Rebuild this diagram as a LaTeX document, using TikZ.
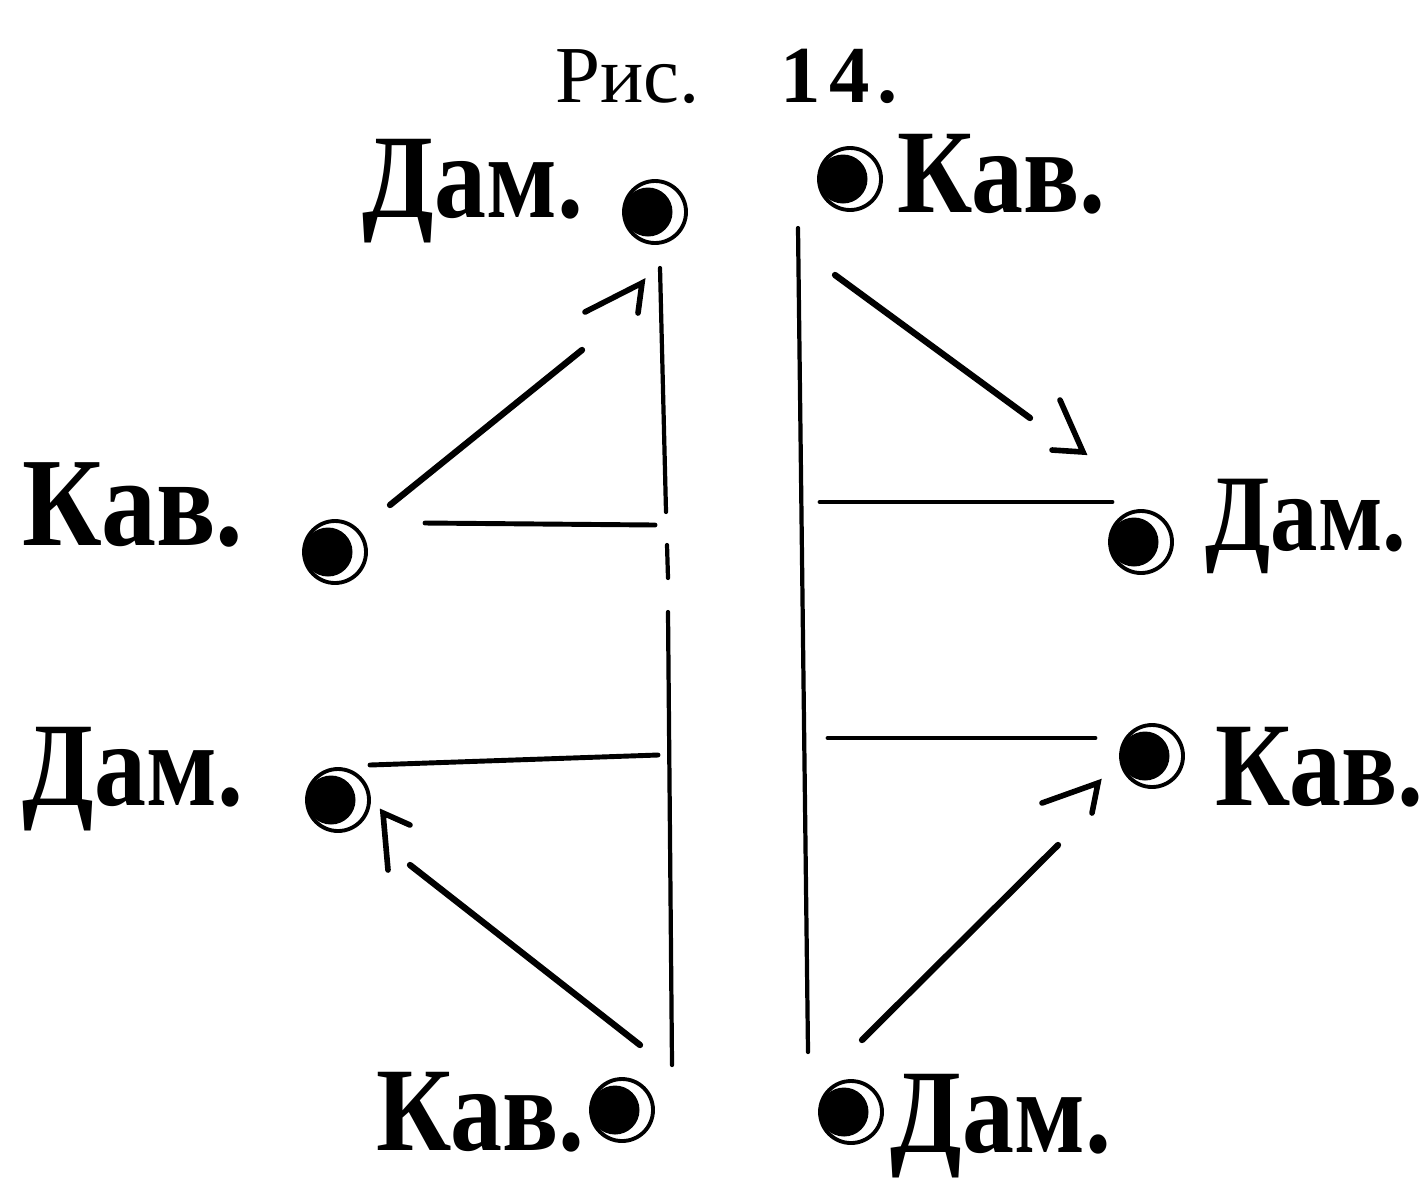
\documentclass[tikz,border=0pt]{standalone}
\usepackage{fontspec}
\setmainfont{Liberation Serif}
\newfontfamily\namefont[FakeStretch=0.87]{Liberation Serif}
\newfontfamily\numfont[LetterSpace=10]{Liberation Serif}
\usepackage{tikz}
\usetikzlibrary{arrows.meta,positioning,calc}
\tikzset{
  dancer/.style={circle, draw, line width=1.1pt, minimum size=0.62cm, inner sep=0pt,
                 path picture={\fill ($(path picture bounding box.center)+(-0.07,0)$) circle (0.245);}},
  lbl/.style={inner sep=0pt, font=\namefont\bfseries\fontsize{34}{34}\selectfont},
  ttl/.style={inner sep=0pt, anchor=base west, font=\fontsize{23}{23}\selectfont},
  floor/.style={line width=1.2pt, line cap=round},
  rank/.style={line width=1.4pt, line cap=round},
  movarr/.style={line width=1.8pt, line cap=round},
  headarr/.style={line width=1.6pt, line cap=round, line join=miter},
}
\begin{document}
\begin{tikzpicture}
  \fill[white] (0,0) rectangle (14.21,-11.86);
  \useasboundingbox (0,0) rectangle (14.21,-11.86);
  % --- title
  \node[ttl] (tfig) at (5.55,-1.02) {Рис.};
  \node[ttl] (tnum) at (7.80,-1.02) {\numfont\bfseries 14.};
  % --- dancers
  \node[dancer] (d1) at (6.55,-2.12) {};
  \node[dancer] (d2) at (8.50,-1.79) {};
  \node[dancer] (d3) at (3.35,-5.52) {};
  \node[dancer] (d4) at (11.41,-5.42) {};
  \node[dancer] (d5) at (3.38,-8.00) {};
  \node[dancer] (d6) at (11.52,-7.56) {};
  \node[dancer] (d7) at (6.22,-11.10) {};
  \node[dancer] (d8) at (8.51,-11.12) {};
  % --- names
  \node[lbl, anchor=base east] (l1) at (5.84,-2.17) {Дам.};
  \node[lbl, anchor=base west] (l2) at (8.97,-2.12) {Кав.};
  \node[lbl, anchor=base west, font=\namefont\bfseries\fontsize{36}{36}\selectfont] (l3) at (0.22,-5.45) {Кав.};
  \node[lbl, anchor=base west, font=\namefont\bfseries\fontsize{31}{31}\selectfont] (l4) at (12.05,-5.50) {Дам.};
  \node[lbl, anchor=base west] (l5) at (0.22,-8.05) {Дам.};
  \node[lbl, anchor=base west] (l6) at (12.15,-8.05) {Кав.};
  \node[lbl, anchor=base east] (l7) at (5.85,-11.50) {Кав.};
  \node[lbl, anchor=base west] (l8) at (8.90,-11.52) {Дам.};
  % --- middle lines
  \draw[floor] (6.60,-2.68) -- (6.66,-5.12);
  \draw[floor] (6.67,-5.45) -- (6.68,-5.78);
  \draw[floor] (6.68,-6.12) -- (6.72,-10.65);
  \draw[floor] (7.98,-2.28) -- (8.08,-10.52);
  % --- ranks
  \draw[rank] (4.25,-5.23) -- (6.55,-5.25);
  \draw[rank] (8.20,-5.02) -- (11.12,-5.02);
  \draw[rank] (3.70,-7.65) -- (6.58,-7.55);
  \draw[rank] (8.28,-7.38) -- (10.95,-7.38);
  % --- moves
  \draw[movarr] (3.90,-5.05) -- (5.82,-3.50);
  \draw[headarr] (5.85,-3.12) -- (6.42,-2.83) -- (6.38,-3.13);
  \draw[movarr] (8.35,-2.75) -- (10.30,-4.18);
  \draw[headarr] (10.60,-4.00) -- (10.83,-4.52) -- (10.52,-4.50);
  \draw[movarr] (8.62,-10.40) -- (10.58,-8.45);
  \draw[headarr] (10.42,-8.03) -- (10.98,-7.83) -- (10.92,-8.13);
  \draw[movarr] (6.40,-10.45) -- (4.10,-8.65);
  \draw[headarr] (3.88,-8.70) -- (3.83,-8.13) -- (4.10,-8.25);
\end{tikzpicture}
\end{document}
